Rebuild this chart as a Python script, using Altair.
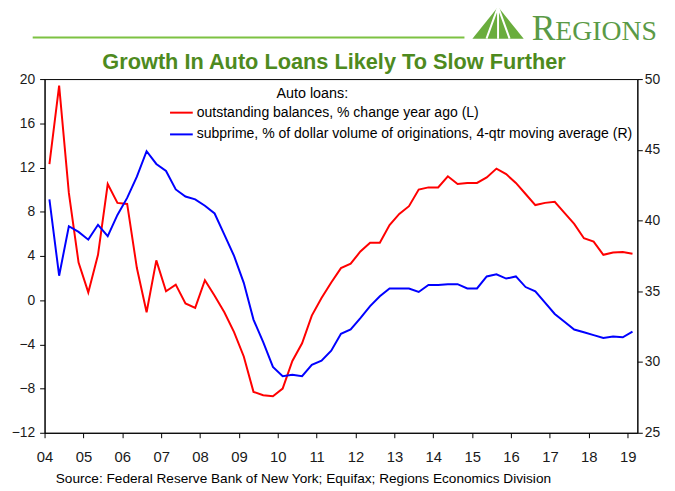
import altair as alt
import pandas as pd

# Quarterly data, 2004Q1 .. 2019Q1
years = [y for y in range(2004, 2020) for _ in range(4)][:61]
qtrs = [q for _ in range(2004, 2020) for q in range(1, 5)][:61]

balances = [12.3, 19.4, 9.7, 3.4,
            0.7, 4.1, 10.5, 8.8,
            8.7, 2.9, -1.1, 3.6,
            0.8, 1.4, -0.3, -0.7,
            1.8, 0.4, -1.1, -2.9,
            -5.1, -8.3, -8.6, -8.7,
            -8.0, -5.5, -3.9, -1.4,
            0.2, 1.6, 2.9, 3.3,
            4.4, 5.2, 5.2, 6.8,
            7.8, 8.5, 10.0, 10.2,
            10.2, 11.2, 10.5, 10.6,
            10.6, 11.1, 11.9, 11.4,
            10.6, 9.6, 8.6, 8.8,
            8.9, 7.9, 6.9, 5.6,
            5.3, 4.1, 4.3, 4.35,
            4.2]

subprime = [41.5, 36.1, 39.6, 39.2,
            38.65, 39.7, 38.9, 40.4,
            41.6, 43.1, 44.9, 44.0,
            43.5, 42.2, 41.7, 41.5,
            41.05, 40.5, 39.0, 37.5,
            35.6, 33.0, 31.4, 29.65,
            29.0, 29.1, 29.0, 29.8,
            30.1, 30.8, 32.0, 32.3,
            33.1, 33.95, 34.65, 35.2,
            35.2, 35.2, 34.95, 35.45,
            35.45, 35.5, 35.5, 35.2,
            35.2, 36.05, 36.2, 35.9,
            36.05, 35.3, 35.0, 34.2,
            33.4, 32.85, 32.3, 32.1,
            31.9, 31.7, 31.8, 31.75,
            32.15]

year_ticks = list(range(2004, 2020))
left_ticks = [-12, -8, -4, 0, 4, 8, 12, 16, 20]
right_ticks = [25, 30, 35, 40, 45, 50]

title_text = "Growth In Auto Loans Likely To Slow Further"
legend_title = "Auto loans:"
red_label = "outstanding balances, % change year ago (L)"
blue_label = "subprime, % of dollar volume of originations, 4-qtr moving average (R)"
source_text = "Source: Federal Reserve Bank of New York; Equifax; Regions Economics Division"

df = pd.DataFrame({"year": years, "q": qtrs, "bal": balances, "sub": subprime})
df["t"] = df["year"] + (df["q"] - 1) * 0.25 + 0.125

FONT = "Liberation Sans"
W, H = 600, 358

xscale = alt.Scale(domain=[2004, 2019.25], nice=False, zero=False)

def xaxis():
    return alt.Axis(values=year_ticks, format="d", labelExpr="slice(datum.label, 2)",
                    title=None, grid=False, tickSize=5, labelPadding=12, labelFontSize=15,
                    labelFlush=False, labelOverlap=False, labelBound=False)

red = alt.Chart(df).mark_line(color="#ff0000", strokeWidth=2).encode(
    x=alt.X("t:Q", scale=xscale, axis=xaxis()),
    y=alt.Y("bal:Q", scale=alt.Scale(domain=[-12, 20], nice=False, zero=False),
            axis=alt.Axis(values=left_ticks, title=None, grid=False, orient="left",
                          tickSize=5, labelPadding=5, labelFontSize=14,
                          labelOverlap=False)),
)

blue = alt.Chart(df).mark_line(color="#0000ff", strokeWidth=2).encode(
    x=alt.X("t:Q", scale=xscale, axis=xaxis()),
    y=alt.Y("sub:Q", scale=alt.Scale(domain=[25, 50], nice=False, zero=False),
            axis=alt.Axis(values=right_ticks, title=None, grid=False, orient="right",
                          tickSize=5, labelPadding=2, labelFontSize=14,
                          labelOverlap=False)),
)

def txt(s, x, y, size, color="#000000", weight="normal", align="left", font=FONT,
        baseline="middle"):
    return alt.Chart(pd.DataFrame({"s": [s]})).mark_text(
        font=font, fontSize=size, color=color, fontWeight=weight, align=align,
        baseline=baseline
    ).encode(x=alt.value(x), y=alt.value(y), text="s:N")

def seg(x1, x2, y, color, width):
    return alt.Chart(pd.DataFrame({"a": [0]})).mark_rule(color=color, strokeWidth=width).encode(
        x=alt.value(x1), x2=alt.value(x2), y=alt.value(y))

header_line = seg(-12, 425, -42, "#7dc242", 2)
logo = alt.Chart(pd.DataFrame({"a": [0]})).mark_point(
    shape="M-1,0.62L0,-0.62L1,0.62Z", filled=True, color="#6aad3d", opacity=1, size=2700
).encode(x=alt.value(459), y=alt.value(-57))
logo_lines = alt.Chart(pd.DataFrame({"a": [0]})).mark_point(
    shape="M0,-0.62L-0.45,0.62M0,-0.62L0.45,0.62M0,-0.62L0,0.62", filled=False,
    color="white", opacity=1, strokeWidth=2, size=2700
).encode(x=alt.value(459), y=alt.value(-57))
logo_r = txt("R", 493, -40, 36, color="#5a9a46", font="Liberation Serif", baseline="alphabetic")
logo_rest = txt("EGIONS", 517, -40, 28, color="#5a9a46", font="Liberation Serif", baseline="alphabetic")

title = txt(title_text, 293, -17, 22, color="#4e8a1e", weight="bold", align="center")
leg_t = txt(legend_title, 271, 15, 14.5, align="center")
leg_r_line = seg(127, 150, 34, "#ff0000", 2)
leg_r = txt(red_label, 154, 34, 14.2)
leg_b_line = seg(127, 150, 56, "#0000ff", 2)
leg_b = txt(blue_label, 154, 56, 14.2)
source = txt(source_text, 262, 405, 13.8, align="center")

lines = alt.layer(red, blue).resolve_scale(y="independent")

chart = alt.layer(
    lines, header_line, logo, logo_lines, logo_r, logo_rest, title,
    leg_t, leg_r_line, leg_r, leg_b_line, leg_b, source
).properties(
    width=W, height=H,
    padding={"left": 37, "top": 69, "right": 30, "bottom": 56},
    autosize=alt.AutoSizeParams(type="none"),
    background="white",
).configure_view(
    stroke="#000000", strokeWidth=1
).configure_axis(
    domainColor="#000000", tickColor="#000000", labelColor="#1a1a1a",
    labelFont=FONT, domainWidth=1, tickWidth=1
)

chart.save("out.html", embed_options={"renderer": "svg", "actions": False})
